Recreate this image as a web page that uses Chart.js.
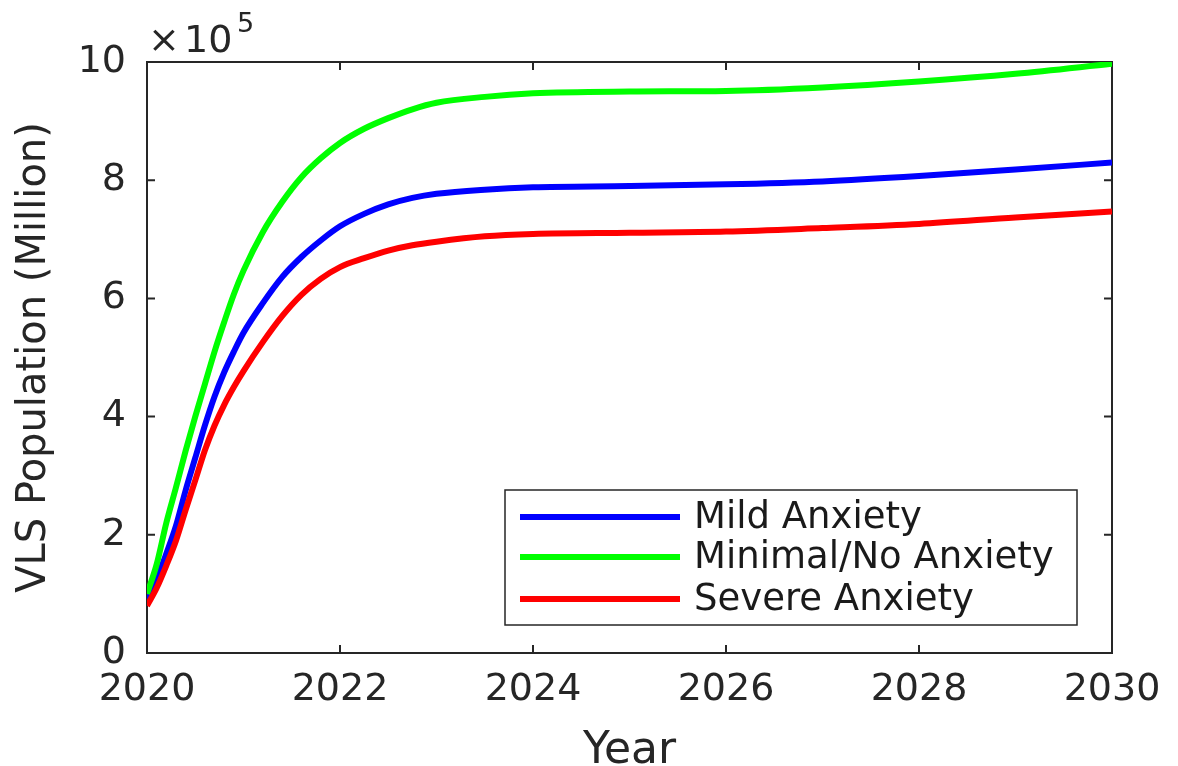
<!DOCTYPE html>
<html>
<head>
<meta charset="utf-8">
<title>VLS Population by Anxiety Level</title>
<script src="https://cdn.jsdelivr.net/npm/chart.js@4.4.1/dist/chart.umd.min.js"></script>
<style>
  html, body { margin: 0; padding: 0; background: #ffffff; overflow: hidden; }
  #wrap { width: 1178px; height: 766px; }
</style>
</head>
<body>
<div id="wrap"><canvas id="chart" width="1178" height="766"></canvas></div>
<script>
// Simulation years (decimal) and population per anxiety group, in units of 10^5
const years = [2020, 2020.1, 2020.2, 2020.3, 2020.4, 2020.5, 2020.6, 2020.7, 2020.8, 2020.9,
               2021, 2021.2, 2021.4, 2021.6, 2021.8, 2022, 2022.25, 2022.5, 2022.75, 2023,
               2023.5, 2024, 2025, 2026, 2027, 2028, 2029, 2030];

const mildAnxiety = [0.92, 1.25, 1.68, 2.15, 2.75, 3.30, 3.85, 4.34, 4.75, 5.10,
                     5.42, 5.92, 6.36, 6.70, 6.98, 7.22, 7.43, 7.59, 7.70, 7.77,
                     7.84, 7.88, 7.90, 7.93, 7.98, 8.07, 8.18, 8.30];

const minimalAnxiety = [1.00, 1.50, 2.20, 2.80, 3.42, 4.00, 4.55, 5.10, 5.60, 6.07,
                        6.47, 7.12, 7.63, 8.05, 8.37, 8.63, 8.87, 9.05, 9.20, 9.31,
                        9.41, 9.47, 9.50, 9.51, 9.57, 9.67, 9.80, 9.97];

const severeAnxiety = [0.80, 1.10, 1.48, 1.90, 2.42, 2.92, 3.43, 3.85, 4.20, 4.50,
                       4.77, 5.26, 5.70, 6.06, 6.33, 6.53, 6.68, 6.81, 6.90, 6.96,
                       7.05, 7.09, 7.11, 7.13, 7.19, 7.26, 7.37, 7.47];

const seriesLabels = ['Mild Anxiety', 'Minimal/No Anxiety', 'Severe Anxiety'];
const seriesColors = ['#0000ff', '#00ff00', '#ff0000'];

const xTickValues = [2020, 2022, 2024, 2026, 2028, 2030];
const yTickValues = [0, 2, 4, 6, 8, 10];
const yExponent = '5';

const FONT = 'DejaVu Sans';
const INK = '#262626';

function toPoints(values) {
  return values.map((v, i) => ({ x: years[i], y: v }));
}

// Box around the plot area with inward tick marks on all four sides
const axesBox = {
  id: 'axesBox',
  beforeDatasetsDraw(chart) {
    const { ctx, chartArea: a, scales } = chart;
    const len = 8;
    ctx.save();
    ctx.strokeStyle = INK;
    ctx.lineWidth = 2;
    ctx.strokeRect(a.left, a.top, a.right - a.left, a.bottom - a.top);
    ctx.beginPath();
    scales.x.ticks.forEach(t => {
      const px = scales.x.getPixelForValue(t.value);
      ctx.moveTo(px, a.bottom); ctx.lineTo(px, a.bottom - len);
      ctx.moveTo(px, a.top); ctx.lineTo(px, a.top + len);
    });
    scales.y.ticks.forEach(t => {
      const py = scales.y.getPixelForValue(t.value);
      ctx.moveTo(a.left, py); ctx.lineTo(a.left + len, py);
      ctx.moveTo(a.right, py); ctx.lineTo(a.right - len, py);
    });
    ctx.stroke();
    ctx.restore();
  },
  afterDraw(chart) {
    const { ctx, chartArea: a } = chart;
    ctx.save();
    // axis multiplier above the y axis
    ctx.fillStyle = INK;
    ctx.textBaseline = 'alphabetic';
    ctx.font = `38px "${FONT}"`;
    ctx.fillText('\u00d7', a.left + 1, 52);
    ctx.fillText('10', a.left + 37, 52);
    ctx.font = `27px "${FONT}"`;
    ctx.fillText(yExponent, a.left + 90, 32);

    // legend box in the lower right of the plot
    const bx = 505, by = 490, bw = 572, bh = 135;
    ctx.fillStyle = '#ffffff';
    ctx.fillRect(bx, by, bw, bh);
    ctx.strokeStyle = INK;
    ctx.lineWidth = 1.5;
    ctx.strokeRect(bx, by, bw, bh);
    const rows = [517, 557, 599];
    ctx.font = `37px "${FONT}"`;
    ctx.textBaseline = 'middle';
    chart.data.datasets.forEach((ds, i) => {
      const y = rows[i];
      ctx.strokeStyle = ds.borderColor;
      ctx.lineWidth = 6;
      ctx.beginPath();
      ctx.moveTo(520, y);
      ctx.lineTo(680, y);
      ctx.stroke();
      ctx.fillStyle = '#1a1a1a';
      ctx.fillText(ds.label, 694, y + 1);
    });
    ctx.restore();
  }
};

const whiteBackground = {
  id: 'whiteBackground',
  beforeDraw(chart) {
    const { ctx, width, height } = chart;
    ctx.save();
    ctx.fillStyle = '#ffffff';
    ctx.fillRect(0, 0, width, height);
    ctx.restore();
  }
};

const seriesValues = [mildAnxiety, minimalAnxiety, severeAnxiety];
const drawOrder = [3, 2, 1];

new Chart(document.getElementById('chart'), {
  type: 'line',
  data: {
    datasets: seriesValues.map((vals, i) => ({
      label: seriesLabels[i],
      data: toPoints(vals),
      borderColor: seriesColors[i],
      backgroundColor: seriesColors[i],
      borderWidth: 6,
      pointRadius: 0,
      fill: false,
      cubicInterpolationMode: 'monotone',
      order: drawOrder[i]
    }))
  },
  options: {
    responsive: false,
    animation: false,
    devicePixelRatio: 1,
    layout: { padding: { left: 0, top: 62, right: 66, bottom: 0 } },
    plugins: {
      legend: { display: false },
      tooltip: { enabled: false },
      title: { display: false }
    },
    scales: {
      x: {
        type: 'linear',
        min: 2020,
        max: 2030,
        afterBuildTicks: s => { s.ticks = xTickValues.map(v => ({ value: v })); },
        afterFit: s => { s.height = 113; },
        grid: { display: false, drawTicks: false },
        border: { display: false },
        ticks: {
          padding: 14,
          color: INK,
          font: { family: FONT, size: 38 },
          maxRotation: 0,
          callback: v => String(v)
        },
        title: {
          display: true,
          text: 'Year',
          color: INK,
          font: { family: FONT, size: 44, lineHeight: 0.66 },
          padding: 0
        }
      },
      y: {
        min: 0,
        max: 10,
        afterBuildTicks: s => { s.ticks = yTickValues.map(v => ({ value: v })); },
        afterFit: s => { s.width = 147; },
        grid: { display: false, drawTicks: false },
        border: { display: false },
        ticks: {
          padding: 21,
          color: INK,
          font: { family: FONT, size: 38 },
          callback: v => String(v)
        },
        title: {
          display: true,
          text: 'VLS Population (Million)',
          color: INK,
          font: { family: FONT, size: 40, lineHeight: 1.2 },
          padding: { top: 11, bottom: 0 }
        }
      }
    }
  },
  plugins: [whiteBackground, axesBox]
});
</script>
</body>
</html>
